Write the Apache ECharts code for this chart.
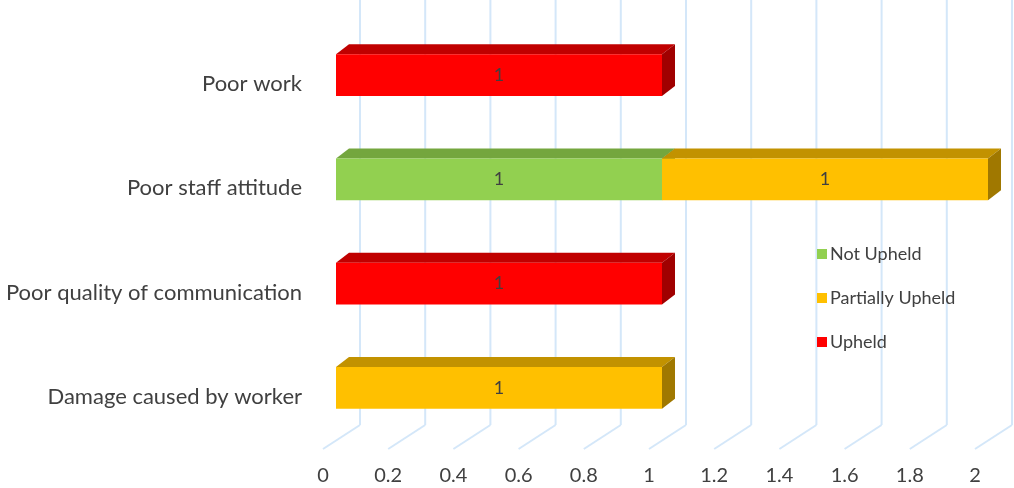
<!DOCTYPE html>
<html>
<head>
<meta charset="utf-8">
<script src="https://cdn.jsdelivr.net/npm/echarts@6/dist/echarts.min.js"></script>
<style>
  html, body { margin: 0; padding: 0; background: #ffffff; }
  #chart { width: 1014px; height: 488px; }
</style>
</head>
<body>
<div id="chart"></div>
<script>
// Complaint categories, bottom to top on the vertical axis
const categories = [
  'Damage caused by worker',
  'Poor quality of communication',
  'Poor staff attitude',
  'Poor work'
];

// Number of complaints per outcome, stacked in this order
const notUpheld       = [0, 0, 1, 0];
const partiallyUpheld = [1, 0, 1, 0];
const upheld          = [0, 1, 0, 1];

// Value-axis ticks
const xTicks = [0, 0.2, 0.4, 0.6, 0.8, 1, 1.2, 1.4, 1.6, 1.8, 2];

const seriesDefs = [
  { name: 'Not Upheld',       values: notUpheld,       front: '#92D050', top: '#74A63E', side: '#5E8A30' },
  { name: 'Partially Upheld', values: partiallyUpheld, front: '#FFC000', top: '#C29200', side: '#A07800' },
  { name: 'Upheld',           values: upheld,          front: '#FF0000', top: '#C00000', side: '#A00000' }
];

const FONT = 'Lato, "Open Sans", sans-serif';
const TEXT_COLOR = '#404040';

// Pseudo-3D depth offsets (pixels)
const FRONT_DX = 13, FRONT_DY = 9;   // floor front edge -> bar front face
const BAR_DX = 13, BAR_DY = 10;      // bar front face -> bar back face
const WALL_DX = 37, WALL_DY = 24;    // floor front edge -> back wall

const gridColor = '#D4E7F9';

const chart = echarts.init(document.getElementById('chart'), null, { renderer: 'canvas' });

// Build stacked [start, end, categoryIndex, value] items for each series
const stackBase = categories.map(() => 0);
const barSeries = seriesDefs.map(def => {
  const data = def.values.map((v, i) => {
    const start = stackBase[i];
    stackBase[i] += v;
    return [start, start + v, i, v];
  });
  return {
    name: def.name,
    type: 'custom',
    coordinateSystem: 'cartesian2d',
    itemStyle: { color: def.front },
    encode: { x: [0, 1], y: 2 },
    z: 3,
    data: data,
    renderItem: function (params, api) {
      const v = api.value(3);
      if (!v) return null;
      const cat = api.value(2);
      const p0 = api.coord([api.value(0), cat]);
      const p1 = api.coord([api.value(1), cat]);
      const h = api.size([0, 1])[1] * 0.4;
      const x1 = p0[0] + FRONT_DX, x2 = p1[0] + FRONT_DX;
      const yc = p0[1] - FRONT_DY;
      const yT = yc - h / 2, yB = yc + h / 2;
      return {
        type: 'group',
        children: [
          { type: 'polygon', shape: { points: [[x1, yT], [x2, yT], [x2 + BAR_DX, yT - BAR_DY], [x1 + BAR_DX, yT - BAR_DY]] },
            style: { fill: def.top } },
          { type: 'polygon', shape: { points: [[x2, yT], [x2 + BAR_DX, yT - BAR_DY], [x2 + BAR_DX, yB - BAR_DY], [x2, yB]] },
            style: { fill: def.side } },
          { type: 'rect', shape: { x: x1, y: yT, width: x2 - x1, height: h },
            style: { fill: def.front } },
          { type: 'text', x: (x1 + x2) / 2, y: yc, z2: 10,
            style: { text: String(v), fill: TEXT_COLOR, fontSize: 18, fontFamily: FONT, align: 'center', verticalAlign: 'middle' } }
        ]
      };
    }
  };
});

// Back-wall gridlines and floor diagonals
const gridSeries = {
  name: 'grid',
  type: 'custom',
  coordinateSystem: 'cartesian2d',
  silent: true,
  z: 1,
  encode: { x: 0 },
  data: xTicks.map(t => [t, 0]),
  renderItem: function (params, api) {
    const cs = params.coordSys;
    const x = api.coord([api.value(0), 0])[0];
    const yFloor = cs.y + cs.height;
    return {
      type: 'group',
      children: [
        { type: 'line', shape: { x1: x + WALL_DX, y1: 0, x2: x + WALL_DX, y2: yFloor - WALL_DY },
          style: { stroke: gridColor, lineWidth: 2 } },
        { type: 'line', shape: { x1: x, y1: yFloor, x2: x + WALL_DX, y2: yFloor - WALL_DY },
          style: { stroke: gridColor, lineWidth: 2 } }
      ]
    };
  }
};

chart.setOption({
  animation: false,
  backgroundColor: '#ffffff',
  grid: { left: 323, right: 39, top: 32, bottom: 39, containLabel: false },
  legend: {
    orient: 'vertical',
    left: 812,
    top: 240,
    itemWidth: 10,
    itemHeight: 10,
    itemGap: 26,
    icon: 'rect',
    data: seriesDefs.map(d => d.name),
    textStyle: { color: TEXT_COLOR, fontSize: 18, fontFamily: FONT, padding: [0, 0, 0, -2] }
  },
  xAxis: {
    type: 'value',
    min: 0,
    max: 2,
    interval: 0.2,
    axisLine: { show: false },
    axisTick: { show: false },
    splitLine: { show: false },
    axisLabel: {
      margin: 17,
      color: TEXT_COLOR,
      fontSize: 20,
      fontFamily: FONT,
      formatter: v => String(Math.round(v * 10) / 10)
    }
  },
  yAxis: {
    type: 'category',
    data: categories,
    axisLine: { show: false },
    axisTick: { show: false },
    splitLine: { show: false },
    axisLabel: {
      margin: 21,
      color: TEXT_COLOR,
      fontSize: 22,
      fontFamily: FONT
    }
  },
  series: [gridSeries].concat(barSeries)
});
</script>
</body>
</html>
